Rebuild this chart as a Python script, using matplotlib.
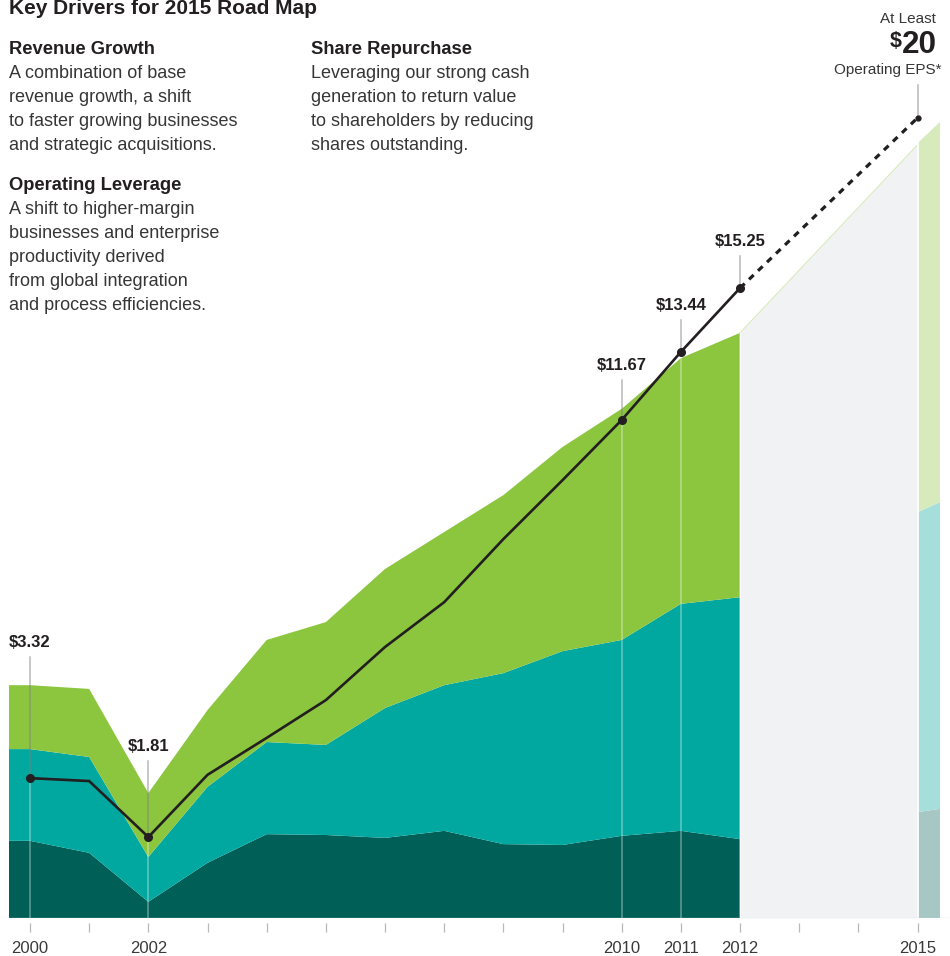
import numpy as np
import matplotlib
matplotlib.use("Agg")
import matplotlib.pyplot as plt

plt.rcParams['font.family'] = ['Liberation Sans', 'DejaVu Sans']

# ---------------- data (EPS-like units) ----------------
years = [2000, 2001, 2002, 2003, 2004, 2005, 2006, 2007, 2008, 2009, 2010, 2011, 2012]
base_layer = [1.86, 1.57, 0.39, 1.33, 2.02, 2.00, 1.93, 2.10, 1.78, 1.76, 1.98, 2.10, 1.90]
mid_layer = [2.21, 2.31, 1.08, 1.83, 2.22, 2.17, 3.13, 3.51, 4.12, 4.67, 4.72, 5.47, 5.83]
top_layer = [1.54, 1.64, 1.54, 1.85, 2.46, 2.96, 3.35, 3.69, 4.29, 4.92, 5.57, 5.92, 6.37]
eps_line = [3.37, 3.30, 1.95, 3.45, 4.34, 5.25, 6.53, 7.61, 9.13, 10.55, 12.00, 13.64, 15.18]

target_year = 2015
target_value = 19.28
projection_top_target = 18.63

strip_base = [2.55, 2.63]
strip_mid = [7.23, 7.39]
strip_top = [8.89, 9.16]

label_years = [2000, 2002, 2010, 2011, 2012]
label_texts = ["$3.32", "$1.81", "$11.67", "$13.44", "$15.25"]

tick_years = list(range(2000, 2016))
tick_label_years = [2000, 2002, 2010, 2011, 2012, 2015]

# ---------------- layout / style ----------------
W, H = 950, 956
PX_PER_YEAR = 59.17
AX_BOTTOM_PX = 918
YTOP = 22.12
PX = YTOP / AX_BOTTOM_PX          # data units per pixel
XMIN = 2000 - 30 / PX_PER_YEAR
XMAX = 2000 + 920 / PX_PER_YEAR
AREA_X0 = 2000 - 21 / PX_PER_YEAR
AREA_X1 = 2000 + 910 / PX_PER_YEAR

label_rise_px = [131, 86, 50, 42, 42]
line_gap_px = 10
target_line_px = 33

C_DARK = '#005f56'
C_TEAL = '#00a8a0'
C_GREEN = '#8cc63f'
C_GRAY = '#f1f2f4'
C_LDARK = '#a6c7c4'
C_LTEAL = '#a5dedb'
C_LGREEN = '#d6eabb'
C_INK = '#231f20'
C_TEXT = '#363636'

fig = plt.figure(figsize=(W / 100, H / 100), dpi=100)
ax = fig.add_axes([0, (H - AX_BOTTOM_PX) / H, 1, AX_BOTTOM_PX / H])
ax.set_xlim(XMIN, XMAX)
ax.set_ylim(0, YTOP)
for s in ['top', 'left', 'right']:
    ax.spines[s].set_visible(False)
ax.spines['bottom'].set_color('none')
ax.spines['bottom'].set_position(('outward', 3.75))
ax.set_yticks([])
ax.set_xticks(tick_years)
ax.set_xticklabels([str(y) if y in tick_label_years else '' for y in tick_years],
                   fontsize=12, color='#3a3a3a')
ax.tick_params(axis='x', length=6.75, width=0.9, color='#b8b8b8', pad=6.0)

# projection (grey) area 2012 -> 2015
stack_top = np.array(base_layer) + np.array(mid_layer) + np.array(top_layer)
ax.fill_between([years[-1], target_year], 0, [stack_top[-1], projection_top_target],
                color=C_GRAY, lw=0, zorder=1)
ax.plot([years[-1], target_year], [stack_top[-1], projection_top_target],
        color=C_LGREEN, lw=0.8, zorder=1.5)

# light strip beyond 2015
ax.stackplot([target_year, AREA_X1], strip_base, strip_mid, strip_top,
             colors=[C_LDARK, C_LTEAL, C_LGREEN], lw=0, zorder=1)

# main stacked area
x_area = [AREA_X0] + years
ax.stackplot(x_area, [base_layer[0]] + base_layer, [mid_layer[0]] + mid_layer,
             [top_layer[0]] + top_layer, colors=[C_DARK, C_TEAL, C_GREEN], lw=0, zorder=2)

# separators
ax.plot([years[-1], years[-1]], [0, stack_top[-1]], color='white', lw=0.9, alpha=0.9, zorder=3)
ax.plot([target_year, target_year], [0, strip_base[0] + strip_mid[0] + strip_top[0]],
        color='white', lw=1.3, zorder=3)
ax.axhline(0, color='#d3e3e0', lw=0.9, zorder=3)

# guide lines for labelled years
eps_by_year = dict(zip(years, eps_line))
for yr, rise in zip(label_years, label_rise_px):
    v = eps_by_year[yr]
    ax.plot([yr, yr], [0, v], color='white', lw=1.1, alpha=0.38, zorder=3)
    ax.plot([yr, yr], [v, v + (rise - line_gap_px) * PX], color='#808080', lw=1.1,
            alpha=0.55, zorder=3)
ax.plot([target_year, target_year], [target_value, target_value + target_line_px * PX],
        color='#808080', lw=1.1, alpha=0.55, zorder=3)

# EPS line
ax.plot(years, eps_line, color=C_INK, lw=1.9, zorder=5, solid_joinstyle='miter')
ax.plot([years[-1], target_year], [eps_line[-1], target_value], color=C_INK, lw=2.3,
        dashes=(2.0, 1.9), zorder=5)
ax.plot(label_years, [eps_by_year[y] for y in label_years], 'o', color=C_INK, ms=5.5, zorder=6)
ax.plot([target_year], [target_value], 'o', color=C_INK, ms=3.5, zorder=6)

for yr, txt, rise in zip(label_years, label_texts, label_rise_px):
    ax.text(yr, eps_by_year[yr] + rise * PX, txt, ha='center', va='baseline',
            fontsize=12, fontweight='bold', color=C_INK, zorder=7)


# ---------------- text blocks ----------------
def ft(xpx, ypx, s, **kw):
    fig.text(xpx / W, 1 - ypx / H, s, va='baseline', **kw)


ft(9, 14, "Key Drivers for 2015 Road Map", fontsize=15, fontweight='bold', color=C_INK)

ft(9, 54, "Revenue Growth", fontsize=13.2, fontweight='bold', color=C_INK)
for i, line in enumerate(["A combination of base", "revenue growth, a shift",
                          "to faster growing businesses", "and strategic acquisitions."]):
    ft(9, 78 + 24.1 * i, line, fontsize=13, color=C_TEXT)

ft(9, 190.5, "Operating Leverage", fontsize=13.2, fontweight='bold', color=C_INK)
for i, line in enumerate(["A shift to higher-margin", "businesses and enterprise",
                          "productivity derived", "from global integration",
                          "and process efficiencies."]):
    ft(9, 213.5 + 24.1 * i, line, fontsize=13, color=C_TEXT)

ft(311, 53.5, "Share Repurchase", fontsize=13.2, fontweight='bold', color=C_INK)
for i, line in enumerate(["Leveraging our strong cash", "generation to return value",
                          "to shareholders by reducing", "shares outstanding."]):
    ft(311, 77.5 + 24.1 * i, line, fontsize=13, color=C_TEXT)

ft(936, 22.7, "At Least", fontsize=11, ha='right', color=C_TEXT)
ft(937, 53.3, "20", fontsize=22.6, fontweight='bold', ha='right', color=C_INK)
ft(902, 47, "$", fontsize=15.5, fontweight='bold', ha='right', color=C_INK)
ft(942, 74, "Operating EPS*", fontsize=11, ha='right', color=C_TEXT)

fig.savefig("out.png", dpi=100)
